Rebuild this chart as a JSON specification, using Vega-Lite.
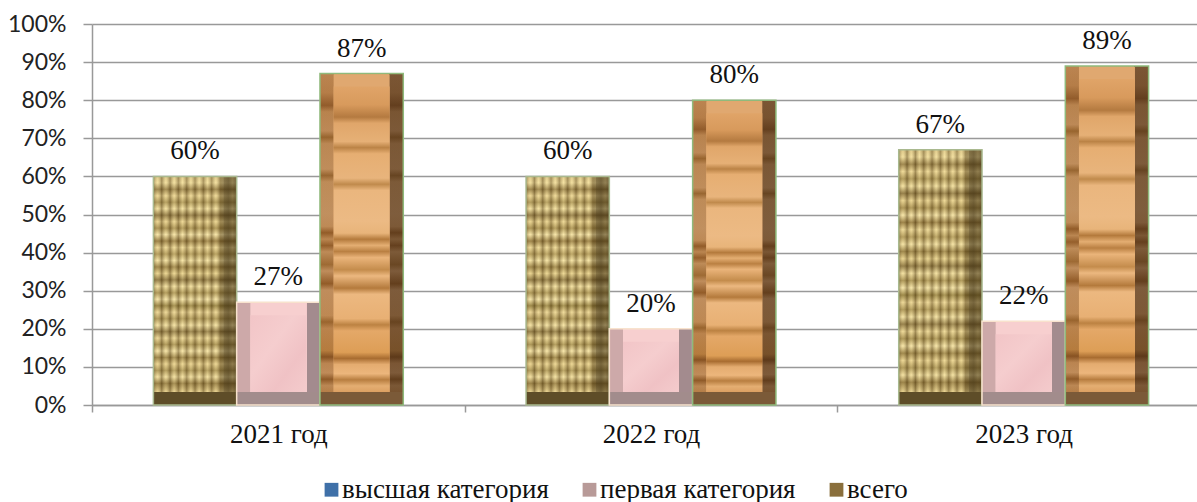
{
"$schema":"https://vega.github.io/schema/vega-lite/v6.json",
"width":1105,"height":381,
"autosize":{"type":"none"},
"padding":{"left":92,"top":24,"right":0,"bottom":97},
"background":"white",
"data":{"values":[
{"year":"2021 год","cat":"высшая категория","v":0.60},
{"year":"2021 год","cat":"первая категория","v":0.27},
{"year":"2021 год","cat":"всего","v":0.87},
{"year":"2022 год","cat":"высшая категория","v":0.60},
{"year":"2022 год","cat":"первая категория","v":0.20},
{"year":"2022 год","cat":"всего","v":0.80},
{"year":"2023 год","cat":"высшая категория","v":0.67},
{"year":"2023 год","cat":"первая категория","v":0.22},
{"year":"2023 год","cat":"всего","v":0.89}
]},
"encoding":{
"x":{"field":"year","type":"nominal","title":null,
"scale":{"range":[0,1118],"paddingInner":0,"paddingOuter":0},
"axis":{"labelAngle":0,"bandPosition":0.5,"tickBand":"extent","domainColor":"#999999","tickColor":"#999999","tickSize":7,"labelFont":"Liberation Serif","labelFontSize":27,"labelColor":"#111111","labelPadding":9,"domainWidth":1.5,"tickWidth":1.5}},
"xOffset":{"field":"cat","type":"nominal","sort":["высшая категория","первая категория","всего"],"scale":{"domain":["высшая категория","первая категория","всего"],"paddingInner":0,"paddingOuter":0.737}},
"y":{"field":"v","type":"quantitative","stack":null,"title":null,
"scale":{"domain":[0,1],"nice":false},
"axis":{"values":[0,0.1,0.2,0.3,0.4,0.5,0.6,0.7,0.8,0.9,1],"format":".0%","grid":true,"gridColor":"#999999","gridWidth":1.5,"domainColor":"#999999","domainWidth":1.5,"tickColor":"#999999","tickWidth":1.5,"tickSize":9,"labelFont":"Lato","labelFontSize":23,"labelColor":"#222222","labelPadding":17}},
"y2":{"datum":0}
},
"layer":[
{"mark":{"type":"bar","width":{"band":1}},
"encoding":{"color":{"field":"cat","type":"nominal","scale":{"domain":["высшая категория","первая категория","всего"],"range":["#3f70a8","#b89a98","#8a6f3c"]},
"legend":{"title":null,"orient":"none","legendX":226,"legendY":452,"direction":"horizontal","symbolType":"square","symbolSize":190,"labelFont":"Liberation Serif","labelFontSize":27,"labelLimit":400,"labelColor":"#111111","columnPadding":27,"symbolStrokeWidth":0,"labelOffset":-3}}}},

{"transform":[{"filter":"datum.cat==='высшая категория'"}],
"layer":[
{"mark":{"type":"bar","width":{"band":1},"fill":"#5e4d28"}},
{"mark":{"type":"bar","width":{"band":1},"y2Offset":-13,"fill":{"gradient":"linear","x1":0,"y1":0,"x2":0,"y2":1,"stops":[
{"offset":0,"color":"#d8c080"},{"offset":0.03,"color":"#f0dc9c"},{"offset":0.06,"color":"#8a7038"},{"offset":0.09,"color":"#ecd592"},{"offset":0.12,"color":"#a08848"},{"offset":0.15,"color":"#f3e0a0"},{"offset":0.18,"color":"#7d6430"},{"offset":0.21,"color":"#e8d08c"},{"offset":0.24,"color":"#9a8040"},{"offset":0.27,"color":"#f6e4a8"},{"offset":0.3,"color":"#86692f"},{"offset":0.33,"color":"#ecd694"},{"offset":0.36,"color":"#a48b4a"},{"offset":0.39,"color":"#f4e2a4"},{"offset":0.42,"color":"#8a7034"},{"offset":0.45,"color":"#e6cf8a"},{"offset":0.48,"color":"#7c6430"},{"offset":0.51,"color":"#f2dfa0"},{"offset":0.54,"color":"#9c8444"},{"offset":0.57,"color":"#f6e5aa"},{"offset":0.6,"color":"#86702f"},{"offset":0.63,"color":"#ead392"},{"offset":0.66,"color":"#a08848"},{"offset":0.69,"color":"#f4e2a4"},{"offset":0.72,"color":"#7e6632"},{"offset":0.75,"color":"#ead492"},{"offset":0.78,"color":"#9a8242"},{"offset":0.81,"color":"#f6e4a8"},{"offset":0.84,"color":"#8a7034"},{"offset":0.87,"color":"#e8d08c"},{"offset":0.9,"color":"#a08848"},{"offset":0.93,"color":"#f2dfa0"},{"offset":0.96,"color":"#84692f"},{"offset":1,"color":"#e4cc88"}]}}},
{"mark":{"type":"bar","width":{"band":1},"y2Offset":-13,"fill":{"gradient":"linear","x1":0,"y1":0,"x2":1,"y2":0,"stops":[
{"offset":0,"color":"rgba(90,70,30,0.5)"},{"offset":0.05,"color":"rgba(255,240,180,0.2)"},{"offset":0.1,"color":"rgba(90,70,30,0.5)"},{"offset":0.15,"color":"rgba(255,240,180,0.25)"},{"offset":0.2,"color":"rgba(90,70,30,0.5)"},{"offset":0.25,"color":"rgba(255,240,180,0.3)"},{"offset":0.3,"color":"rgba(90,70,30,0.45)"},{"offset":0.35,"color":"rgba(255,240,180,0.3)"},{"offset":0.4,"color":"rgba(90,70,30,0.45)"},{"offset":0.45,"color":"rgba(255,240,180,0.3)"},{"offset":0.5,"color":"rgba(90,70,30,0.45)"},{"offset":0.55,"color":"rgba(255,240,180,0.3)"},{"offset":0.6,"color":"rgba(90,70,30,0.45)"},{"offset":0.65,"color":"rgba(255,240,180,0.3)"},{"offset":0.7,"color":"rgba(90,70,30,0.45)"},{"offset":0.75,"color":"rgba(255,240,180,0.25)"},{"offset":0.8,"color":"rgba(90,70,30,0.5)"},{"offset":0.84,"color":"rgba(70,55,25,0.45)"},{"offset":0.845,"color":"rgba(70,55,25,0.6)"},{"offset":0.9,"color":"rgba(70,55,25,0.7)"},{"offset":0.95,"color":"rgba(70,55,25,0.55)"},{"offset":1,"color":"rgba(70,55,25,0.7)"}]}}},
{"mark":{"type":"bar","width":{"band":1},"fillOpacity":0,"stroke":"#a9b98f","strokeWidth":1.5}}
]},

{"transform":[{"filter":"datum.cat==='первая категория'"}],
"layer":[
{"mark":{"type":"bar","width":{"band":1},"fill":"#a28c8c"}},
{"mark":{"type":"bar","width":{"band":1},"y2Offset":-13,"fill":{"gradient":"linear","x1":0,"y1":0,"x2":1,"y2":0,"stops":[
{"offset":0,"color":"#cda9a9"},{"offset":0.17,"color":"#cda9a9"},{"offset":0.17,"color":"#f3c8ca"},{"offset":0.84,"color":"#f3c8ca"},{"offset":0.84,"color":"#a38b8e"},{"offset":1,"color":"#a38b8e"}]}}},
{"mark":{"type":"bar","width":56,"y2Offset":-13,"fill":"#f7cfcf"}},
{"mark":{"type":"bar","width":56,"yOffset":13,"y2Offset":-13,"fill":{"gradient":"linear","x1":0,"y1":0,"x2":1,"y2":1,"stops":[{"offset":0,"color":"#f2c5c7"},{"offset":0.4,"color":"#f5cdce"},{"offset":0.7,"color":"#f0c2c5"},{"offset":1,"color":"#f4cbcc"}]}}},
{"mark":{"type":"bar","width":{"band":1},"fillOpacity":0,"stroke":"#f8e2cd","strokeWidth":1.5}}
]},

{"transform":[{"filter":"datum.cat==='всего'"}],
"layer":[
{"mark":{"type":"bar","width":{"band":1},"fill":"#7b5a38"}},
{"mark":{"type":"bar","width":{"band":1},"y2Offset":-13,"fill":{"gradient":"linear","x1":0,"y1":0,"x2":0,"y2":1,"stops":[
{"offset":0,"color":"#e0a468"},{"offset":0.06,"color":"#d89a5c"},{"offset":0.1,"color":"#a86c34"},{"offset":0.12,"color":"#dca264"},{"offset":0.18,"color":"#e2aa70"},{"offset":0.2,"color":"#b07838"},{"offset":0.22,"color":"#e0a86c"},{"offset":0.3,"color":"#e6b076"},{"offset":0.32,"color":"#b07a3c"},{"offset":0.34,"color":"#e4ae72"},{"offset":0.44,"color":"#e8b47c"},{"offset":0.48,"color":"#e4ac70"},{"offset":0.5,"color":"#a86c30"},{"offset":0.52,"color":"#dfa668"},{"offset":0.54,"color":"#ac7034"},{"offset":0.56,"color":"#e4ae72"},{"offset":0.6,"color":"#b88040"},{"offset":0.62,"color":"#e6b078"},{"offset":0.66,"color":"#a86c30"},{"offset":0.68,"color":"#e6b078"},{"offset":0.76,"color":"#e4aa6c"},{"offset":0.78,"color":"#b27838"},{"offset":0.8,"color":"#dfa262"},{"offset":0.87,"color":"#d8984e"},{"offset":0.89,"color":"#995f28"},{"offset":0.91,"color":"#dfa468"},{"offset":0.94,"color":"#e6ae74"},{"offset":0.96,"color":"#a46a30"},{"offset":0.98,"color":"#e0a86c"},{"offset":1,"color":"#d89c5c"}]}}},
{"mark":{"type":"bar","width":{"band":1},"y2Offset":-13,"fill":{"gradient":"linear","x1":0,"y1":0,"x2":1,"y2":0,"stops":[
{"offset":0,"color":"rgba(90,50,20,0.28)"},{"offset":0.17,"color":"rgba(90,50,20,0.28)"},{"offset":0.17,"color":"rgba(90,50,20,0)"},{"offset":0.83,"color":"rgba(90,50,20,0)"},{"offset":0.83,"color":"rgba(50,30,15,0.58)"},{"offset":1,"color":"rgba(50,30,15,0.58)"}]}}},
{"mark":{"type":"bar","width":{"band":1},"fillOpacity":0,"stroke":"#8fba7c","strokeWidth":1.5}},
{"mark":{"type":"bar","width":56,"yOffset":1,"y2Offset":-13,"fill":"#e0a870"}},
{"mark":{"type":"bar","width":56,"yOffset":13,"y2Offset":-13,"fill":{"gradient":"linear","x1":0,"y1":0,"x2":0,"y2":1,"stops":[
{"offset":0,"color":"#e0a468"},{"offset":0.06,"color":"#d89a5c"},{"offset":0.1,"color":"#b47a40"},{"offset":0.12,"color":"#e0a66a"},{"offset":0.18,"color":"#e6b076"},{"offset":0.2,"color":"#bb8346"},{"offset":0.22,"color":"#e6ae72"},{"offset":0.3,"color":"#e8b47c"},{"offset":0.32,"color":"#c08a4c"},{"offset":0.34,"color":"#eab67e"},{"offset":0.44,"color":"#ecba84"},{"offset":0.48,"color":"#e8b47a"},{"offset":0.5,"color":"#b47a3c"},{"offset":0.52,"color":"#e4ae72"},{"offset":0.54,"color":"#ba8042"},{"offset":0.56,"color":"#eab47a"},{"offset":0.6,"color":"#c48c4c"},{"offset":0.62,"color":"#ecb880"},{"offset":0.66,"color":"#b47a3c"},{"offset":0.68,"color":"#ecb880"},{"offset":0.76,"color":"#e8b074"},{"offset":0.78,"color":"#bc8242"},{"offset":0.8,"color":"#e4a868"},{"offset":0.87,"color":"#dd9e56"},{"offset":0.89,"color":"#a86c30"},{"offset":0.91,"color":"#e4ac70"},{"offset":0.94,"color":"#ecb67c"},{"offset":0.96,"color":"#b87e40"},{"offset":0.98,"color":"#e4ae72"},{"offset":1,"color":"#dca062"}]}}}
]},

{"mark":{"type":"text","font":"Liberation Serif","fontSize":27,"color":"#111111","dy":-25,"baseline":"middle"},
"encoding":{"y2":null,"text":{"field":"v","type":"quantitative","format":".0%"}}}
],
"config":{"view":{"stroke":null},"axis":{"labelFontWeight":"normal"}}
}
